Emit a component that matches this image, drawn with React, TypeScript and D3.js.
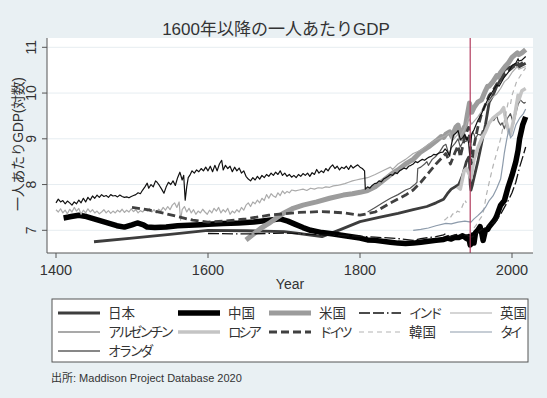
import * as d3 from "d3";

type Pt = [number, number | null];

const xTicks = [1400, 1600, 1800, 2000];
const yTicks = [7, 8, 9, 10, 11];
const warYear = 1945;

const japan: Pt[] = [
  [1450, 6.75], [1500, 6.83], [1550, 6.91], [1600, 7.0], [1650, 6.99], [1700, 6.97], [1720, 6.93],
  [1750, 6.86], [1775, 7.02], [1800, 7.19], [1825, 7.28], [1850, 7.37], [1870, 7.45], [1888, 7.52],
  [1900, 7.6], [1910, 7.68], [1915, 7.8], [1920, 7.9], [1925, 7.95], [1930, 8.0], [1935, 8.2],
  [1940, 8.5], [1943, 8.6], [1944, 8.5], [1945, 8.0], [1946, 7.88], [1948, 8.0], [1950, 8.15],
  [1955, 8.5], [1960, 8.9], [1965, 9.3], [1970, 9.8], [1975, 9.95], [1980, 10.15], [1985, 10.3],
  [1990, 10.5], [1995, 10.55], [2000, 10.58], [2005, 10.63], [2009, 10.57], [2018, 10.65],
];

const china: Pt[] = [
  [1410, 7.27], [1420, 7.3], [1430, 7.33], [1440, 7.3], [1450, 7.25], [1460, 7.2], [1470, 7.15],
  [1480, 7.1], [1490, 7.07], [1500, 7.12], [1507, 7.16], [1515, 7.12], [1520, 7.07], [1530, 7.06],
  [1545, 7.07], [1560, 7.1], [1575, 7.11], [1590, 7.12], [1600, 7.13], [1620, 7.15], [1640, 7.16],
  [1660, 7.18], [1680, 7.22], [1695, 7.25], [1705, 7.2], [1715, 7.13], [1725, 7.06], [1735, 7.0],
  [1750, 6.95], [1765, 6.92], [1780, 6.88], [1800, 6.83], [1810, 6.79], [1820, 6.78], [1840, 6.74],
  [1850, 6.72], [1860, 6.71], [1870, 6.72], [1880, 6.74], [1890, 6.76], [1900, 6.78], [1910, 6.8],
  [1915, 6.83], [1920, 6.81], [1925, 6.85], [1930, 6.84], [1935, 6.88], [1938, 6.85], [1940, 6.82],
  [1943, 6.86], [1945, 6.68], [1947, 6.72], [1949, 6.9], [1950, 6.72], [1952, 6.95], [1955, 7.0],
  [1958, 7.08], [1960, 6.95], [1962, 6.78], [1965, 7.0], [1968, 7.02], [1970, 7.08], [1975, 7.18],
  [1978, 7.25], [1980, 7.32], [1985, 7.55], [1990, 7.65], [1995, 7.95], [2000, 8.2], [2005, 8.5],
  [2008, 8.75], [2010, 9.0], [2014, 9.3], [2018, 9.48],
];

const usa: Pt[] = [
  [1650, 6.79], [1660, 6.92], [1670, 7.05], [1680, 7.15], [1690, 7.27], [1700, 7.38], [1712, 7.48],
  [1725, 7.55], [1743, 7.62], [1760, 7.7], [1778, 7.77], [1790, 7.8], [1800, 7.83], [1810, 7.87],
  [1820, 7.95], [1830, 8.08], [1843, 8.25], [1850, 8.32], [1860, 8.45], [1870, 8.55], [1879, 8.7],
  [1890, 8.82], [1900, 8.95], [1907, 9.05], [1910, 9.03], [1913, 9.1], [1918, 9.15], [1921, 9.05],
  [1926, 9.25], [1929, 9.3], [1933, 9.0], [1937, 9.25], [1938, 9.2], [1941, 9.5], [1944, 9.78],
  [1946, 9.62], [1947, 9.58], [1950, 9.68], [1955, 9.8], [1960, 9.85], [1965, 10.05], [1968, 10.15],
  [1970, 10.15], [1975, 10.25], [1980, 10.38], [1982, 10.35], [1985, 10.45], [1991, 10.58],
  [1995, 10.65], [2000, 10.78], [2007, 10.88], [2009, 10.84], [2013, 10.88], [2018, 10.95],
];

const india: Pt[] = [
  [1600, 6.93], [1650, 6.92], [1700, 6.94], [1750, 6.9], [1800, 6.87], [1820, 6.85], [1850, 6.82],
  [1870, 6.78], [1880, 6.82], [1890, 6.84], [1900, 6.86], [1910, 6.9], [1913, 6.93], [1918, 6.85],
  [1920, 6.88], [1925, 6.9], [1930, 6.92], [1935, 6.88], [1940, 6.9], [1943, 6.87], [1947, 6.85],
  [1950, 6.88], [1955, 6.95], [1960, 7.02], [1965, 7.05], [1970, 7.12], [1975, 7.15], [1980, 7.22],
  [1985, 7.35], [1990, 7.5], [1995, 7.65], [2000, 7.82], [2005, 8.05], [2010, 8.38], [2015, 8.65],
  [2018, 8.82],
];

const uk: Pt[] = [
  [1400, 7.45], [1403, 7.4], [1406, 7.47], [1409, 7.38], [1412, 7.44], [1415, 7.36], [1418, 7.46],
  [1421, 7.4], [1424, 7.5], [1427, 7.42], [1430, 7.48], [1433, 7.35], [1436, 7.44], [1439, 7.38],
  [1442, 7.47], [1445, 7.4], [1448, 7.45], [1451, 7.38], [1454, 7.42], [1457, 7.36], [1460, 7.4],
  [1463, 7.45], [1466, 7.38], [1469, 7.43], [1472, 7.37], [1475, 7.42], [1478, 7.38], [1481, 7.44],
  [1484, 7.4], [1487, 7.46], [1490, 7.39], [1493, 7.44], [1496, 7.4], [1499, 7.47], [1502, 7.41],
  [1505, 7.45], [1508, 7.38], [1511, 7.43], [1514, 7.4], [1517, 7.46], [1520, 7.42], [1523, 7.48],
  [1526, 7.4], [1529, 7.45], [1532, 7.38], [1535, 7.46], [1538, 7.42], [1541, 7.5], [1544, 7.44],
  [1547, 7.52], [1550, 7.45], [1553, 7.55], [1556, 7.6], [1559, 7.5], [1562, 7.62], [1564, 7.22],
  [1566, 7.45], [1569, 7.52], [1572, 7.4], [1575, 7.48], [1578, 7.38], [1581, 7.45], [1584, 7.35],
  [1587, 7.42], [1590, 7.38], [1593, 7.46], [1596, 7.4], [1599, 7.35], [1602, 7.44], [1605, 7.38],
  [1608, 7.48], [1611, 7.42], [1614, 7.5], [1617, 7.38], [1620, 7.45], [1623, 7.4], [1626, 7.48],
  [1629, 7.35], [1632, 7.42], [1635, 7.38], [1638, 7.45], [1641, 7.4], [1644, 7.5], [1647, 7.44],
  [1650, 7.55], [1653, 7.6], [1656, 7.52], [1659, 7.62], [1662, 7.58], [1665, 7.66], [1668, 7.6],
  [1671, 7.7], [1674, 7.65], [1677, 7.78], [1680, 7.7], [1683, 7.8], [1686, 7.75], [1689, 7.72],
  [1692, 7.82], [1695, 7.76], [1698, 7.86], [1701, 7.8], [1704, 7.85], [1707, 7.82], [1710, 7.88],
  [1715, 7.86], [1720, 7.88], [1725, 7.9], [1730, 7.87], [1735, 7.92], [1740, 7.9], [1745, 7.93],
  [1750, 7.92], [1755, 7.95], [1760, 7.94], [1765, 7.97], [1770, 7.98], [1775, 8.0], [1780, 8.02],
  [1785, 8.05], [1790, 8.08], [1795, 8.1], [1800, 8.12], [1810, 8.15], [1820, 8.22], [1830, 8.3],
  [1840, 8.38], [1843, 8.33], [1850, 8.45], [1860, 8.55], [1870, 8.68], [1880, 8.75], [1890, 8.88],
  [1900, 8.98], [1913, 9.07], [1918, 9.13], [1921, 8.95], [1929, 9.1], [1931, 9.03], [1937, 9.2],
  [1943, 9.45], [1947, 9.32], [1950, 9.38], [1955, 9.48], [1960, 9.6], [1965, 9.72], [1970, 9.82],
  [1975, 9.92], [1980, 9.98], [1985, 10.1], [1990, 10.25], [1995, 10.32], [2000, 10.45], [2007, 10.58],
  [2009, 10.52], [2018, 10.58],
];

const argentina: Pt[] = [
  [1810, 7.4], [1820, 7.5], [1830, 7.6], [1840, 7.7], [1850, 7.78], [1860, 7.88], [1866, 7.92],
  [1872, 8.0], [1875, 8.05], [1876, 8.35], [1880, 8.38], [1885, 8.45], [1888, 8.5], [1890, 8.42],
  [1895, 8.55], [1900, 8.62], [1905, 8.72], [1910, 8.85], [1913, 8.88], [1917, 8.65], [1920, 8.8],
  [1925, 8.9], [1929, 9.0], [1932, 8.82], [1935, 8.92], [1940, 8.95], [1944, 9.05], [1945, 8.98],
  [1948, 9.15], [1950, 9.1], [1952, 9.0], [1955, 9.1], [1959, 9.08], [1961, 9.18], [1963, 9.1],
  [1965, 9.25], [1970, 9.35], [1974, 9.45], [1976, 9.4], [1980, 9.5], [1982, 9.38], [1985, 9.3],
  [1987, 9.35], [1990, 9.22], [1994, 9.45], [1998, 9.55], [2002, 9.32], [2005, 9.55], [2008, 9.75],
  [2011, 9.85], [2014, 9.8], [2016, 9.78], [2018, 9.8],
];

const russia: Pt[] = [
  [1928, 7.95], [1932, 7.9], [1937, 8.3], [1940, 8.35], [1946, 8.15], [1950, 8.55], [1955, 8.8],
  [1960, 9.0], [1965, 9.15], [1970, 9.35], [1975, 9.45], [1980, 9.52], [1985, 9.58], [1989, 9.68],
  [1992, 9.4], [1996, 9.15], [1998, 9.1], [2000, 9.25], [2004, 9.55], [2008, 9.95], [2009, 9.85],
  [2013, 10.05], [2018, 10.1],
];

const germany: Pt[] = [
  [1500, 7.5], [1520, 7.45], [1540, 7.38], [1560, 7.3], [1580, 7.22], [1600, 7.18], [1620, 7.2],
  [1650, 7.25], [1680, 7.33], [1700, 7.36], [1720, 7.39], [1750, 7.41], [1780, 7.38], [1800, 7.33],
  [1820, 7.4], [1840, 7.6], [1860, 7.77], [1870, 7.88], [1880, 8.05], [1890, 8.25], [1900, 8.45],
  [1913, 8.68], [1919, 8.45], [1925, 8.7], [1929, 8.85], [1932, 8.6], [1938, 9.05], [1943, 9.25],
  [1945, 8.9], [1946, 8.45], [1948, 8.6], [1950, 8.85], [1955, 9.25], [1960, 9.55], [1965, 9.75],
  [1970, 9.95], [1975, 10.05], [1980, 10.2], [1985, 10.28], [1991, 10.42], [2000, 10.55],
  [2008, 10.65], [2009, 10.6], [2018, 10.72],
];

const korea: Pt[] = [
  [1911, 7.22], [1914, 7.26], [1917, 7.32], [1919, 7.28], [1922, 7.36], [1925, 7.34], [1928, 7.42],
  [1931, 7.4], [1934, 7.5], [1936, 7.58], [1938, 7.66], [1940, 7.6], [1945, null], [1950, 7.05],
  [1953, 7.12], [1956, 7.2], [1960, 7.3], [1963, 7.45], [1966, 7.75], [1970, 8.05], [1975, 8.4],
  [1980, 8.7], [1985, 9.0], [1990, 9.4], [1995, 9.8], [1998, 9.75], [2000, 9.95], [2006, 10.25],
  [2010, 10.35], [2015, 10.48], [2018, 10.55],
];

const thailand: Pt[] = [
  [1870, 7.0], [1880, 7.02], [1890, 7.05], [1900, 7.1], [1913, 7.15], [1920, 7.14], [1929, 7.18],
  [1938, 7.2], [1946, 7.18], [1950, 7.25], [1955, 7.32], [1960, 7.4], [1965, 7.5], [1970, 7.65],
  [1975, 7.75], [1980, 7.92], [1985, 8.12], [1988, 8.45], [1990, 8.7], [1993, 8.98], [1996, 9.22],
  [1998, 9.02], [2001, 9.08], [2005, 9.3], [2010, 9.45], [2015, 9.55], [2018, 9.65],
];

const netherlands: Pt[] = [
  [1400, 7.6], [1403, 7.68], [1406, 7.62], [1409, 7.65], [1412, 7.58], [1415, 7.64], [1418, 7.6],
  [1421, 7.55], [1424, 7.62], [1427, 7.58], [1430, 7.66], [1433, 7.6], [1436, 7.7], [1439, 7.62],
  [1442, 7.72], [1445, 7.66], [1448, 7.75], [1451, 7.7], [1454, 7.77], [1457, 7.72], [1460, 7.78],
  [1463, 7.74], [1466, 7.76], [1469, 7.72], [1472, 7.78], [1475, 7.75], [1478, 7.76], [1481, 7.73],
  [1484, 7.77], [1487, 7.74], [1490, 7.72], [1493, 7.73], [1496, 7.71], [1499, 7.74], [1502, 7.76],
  [1505, 7.78], [1508, 7.82], [1511, 7.8], [1514, 7.88], [1517, 7.95], [1520, 8.03], [1522, 7.92],
  [1525, 8.0], [1528, 7.95], [1531, 8.08], [1533, 8.05], [1536, 7.98], [1539, 7.9], [1542, 7.81],
  [1545, 7.95], [1548, 8.05], [1551, 8.0], [1554, 8.08], [1557, 7.98], [1560, 8.15], [1563, 8.27],
  [1566, 8.1], [1568, 8.2], [1570, 7.66], [1572, 7.95], [1574, 8.15], [1576, 8.2], [1579, 8.3],
  [1582, 8.25], [1585, 8.32], [1588, 8.28], [1591, 8.35], [1594, 8.3], [1597, 8.38], [1600, 8.3],
  [1603, 8.4], [1606, 8.28], [1609, 8.42], [1612, 8.3], [1615, 8.45], [1618, 8.53], [1620, 8.32],
  [1623, 8.42], [1626, 8.35], [1629, 8.4], [1632, 8.28], [1635, 8.38], [1638, 8.3], [1641, 8.36],
  [1644, 8.25], [1647, 8.3], [1650, 8.18], [1653, 8.12], [1656, 8.08], [1659, 8.15], [1662, 8.1],
  [1665, 8.18], [1668, 8.12], [1671, 8.2], [1674, 8.15], [1677, 8.22], [1680, 8.18], [1683, 8.25],
  [1686, 8.2], [1689, 8.27], [1692, 8.22], [1695, 8.3], [1698, 8.2], [1701, 8.25], [1704, 8.18],
  [1707, 8.22], [1710, 8.16], [1713, 8.2], [1716, 8.15], [1719, 8.22], [1722, 8.18], [1725, 8.24],
  [1728, 8.2], [1731, 8.25], [1734, 8.18], [1737, 8.26], [1740, 8.22], [1743, 8.33], [1746, 8.25],
  [1749, 8.3], [1752, 8.26], [1755, 8.35], [1758, 8.3], [1761, 8.38], [1764, 8.43], [1767, 8.35],
  [1770, 8.4], [1773, 8.32], [1776, 8.38], [1779, 8.35], [1782, 8.4], [1785, 8.33], [1788, 8.42],
  [1791, 8.36], [1794, 8.4], [1797, 8.43], [1800, 8.38], [1803, 8.35], [1806, 8.3], [1807, 7.9],
  [1810, 7.95], [1813, 7.92], [1816, 7.98], [1819, 8.02], [1822, 8.03], [1825, 8.08], [1828, 8.06],
  [1831, 8.12], [1834, 8.15], [1837, 8.18], [1840, 8.22], [1843, 8.2], [1846, 8.26], [1849, 8.24],
  [1852, 8.3], [1855, 8.33], [1858, 8.36], [1861, 8.34], [1864, 8.4], [1867, 8.42], [1870, 8.45],
  [1873, 8.5], [1876, 8.48], [1879, 8.52], [1882, 8.55], [1885, 8.53], [1888, 8.57], [1891, 8.6],
  [1894, 8.62], [1897, 8.66], [1900, 8.65], [1903, 8.68], [1906, 8.7], [1909, 8.71], [1912, 8.78],
  [1915, 8.72], [1918, 8.62], [1920, 8.85], [1923, 9.08], [1926, 9.12], [1929, 9.18], [1932, 8.98],
  [1935, 9.02], [1938, 9.1], [1940, 8.98], [1941, 9.04], [1943, 8.9], [1944, 8.7], [1945, 8.55],
  [1946, 8.95], [1947, 9.1], [1950, 9.2], [1955, 9.4], [1960, 9.55], [1965, 9.75], [1970, 9.92],
  [1975, 10.05], [1980, 10.18], [1983, 10.15], [1990, 10.35], [1995, 10.45], [2000, 10.6],
  [2005, 10.65], [2008, 10.75], [2009, 10.7], [2013, 10.72], [2018, 10.8],
];

const series = [
  { name: "日本", data: japan, color: "#3d3d3d", width: 2.8, dash: "" },
  { name: "中国", data: china, color: "#000000", width: 5.5, dash: "" },
  { name: "米国", data: usa, color: "#9c9c9c", width: 5, dash: "" },
  { name: "インド", data: india, color: "#111111", width: 1.3, dash: "11,3,11,3,1.5,3" },
  { name: "英国", data: uk, color: "#ababab", width: 1.2, dash: "" },
  { name: "アルゼンチン", data: argentina, color: "#555555", width: 1.2, dash: "" },
  { name: "ロシア", data: russia, color: "#c4c4c4", width: 3.5, dash: "" },
  { name: "ドイツ", data: germany, color: "#404040", width: 2.8, dash: "8,4" },
  { name: "韓国", data: korea, color: "#b4b4b4", width: 1.2, dash: "5,4" },
  { name: "タイ", data: thailand, color: "#8d9bab", width: 1.2, dash: "" },
  { name: "オランダ", data: netherlands, color: "#111111", width: 1.2, dash: "" },
];

// label widths in the legend (kana set tighter than kanji)
const legendTextWidth: Record<string, number> = {
  "インド": 34,
  "アルゼンチン": 66,
  "ロシア": 34,
  "ドイツ": 34,
  "タイ": 23,
  "オランダ": 46,
};

const FONT = "'Liberation Sans', Arial, 'Noto Sans CJK JP', sans-serif";

export default function App() {
  const W = 547;
  const H = 398;
  const plot = { left: 47, right: 533, top: 38, bottom: 253 };

  const x = d3.scaleLinear().domain([1400, 2000]).range([56, 512]);
  const y = d3.scaleLinear().domain([7, 11]).range([230.3, 47.3]);

  const line = d3
    .line<Pt>()
    .defined((d) => d[1] != null)
    .x((d) => x(d[0]))
    .y((d) => y(d[1] as number));

  const legendCols = [58, 178, 269, 359, 450];
  const legendRows = [313, 332, 351];

  return (
    <svg
      width={W}
      height={H}
      style={{ position: "absolute", left: 0, top: 0, fontFamily: FONT }}
    >
      <rect x={0} y={0} width={W} height={H} fill="#e9f0f3" />
      <rect
        x={plot.left}
        y={plot.top}
        width={plot.right - plot.left}
        height={plot.bottom - plot.top}
        fill="#ffffff"
      />

      {/* grid */}
      {yTicks.map((t) => (
        <line key={t} x1={plot.left} x2={plot.right} y1={y(t)} y2={y(t)} stroke="#e6edf1" strokeWidth={1} />
      ))}

      {/* series */}
      {series.map((s) => (
        <path
          key={s.name}
          d={line(s.data) || ""}
          fill="none"
          stroke={s.color}
          strokeWidth={s.width}
          strokeDasharray={s.dash || undefined}
          strokeLinejoin="round"
        />
      ))}

      {/* 1945 */}
      <line x1={x(warYear)} x2={x(warYear)} y1={plot.top} y2={plot.bottom} stroke="#b23b5e" strokeWidth={1.2} />

      {/* axes */}
      <line x1={plot.left} x2={plot.left} y1={plot.top} y2={plot.bottom} stroke="#555" />
      <line x1={plot.left} x2={plot.right} y1={plot.bottom} y2={plot.bottom} stroke="#555" />
      {yTicks.map((t) => (
        <g key={t}>
          <line x1={plot.left - 5} x2={plot.left} y1={y(t)} y2={y(t)} stroke="#555" />
          <text
            x={36}
            y={y(t)}
            transform={`rotate(-90, 36, ${y(t)})`}
            textAnchor="middle"
            fontSize={14}
            fill="#333"
          >
            {t}
          </text>
        </g>
      ))}
      {xTicks.map((t) => (
        <g key={t}>
          <line x1={x(t)} x2={x(t)} y1={plot.bottom} y2={plot.bottom + 5} stroke="#555" />
          <text x={x(t)} y={275} textAnchor="middle" fontSize={14.5} fill="#333">
            {t}
          </text>
        </g>
      ))}

      {/* titles */}
      <text x={276} y={35} textAnchor="middle" fontSize={17} fill="#333">
        1600年以降の一人あたりGDP
      </text>
      <text x={290} y={289} textAnchor="middle" fontSize={14} fill="#333">
        Year
      </text>
      <text
        x={23}
        y={144}
        transform="rotate(-90, 23, 144)"
        textAnchor="middle"
        fontSize={14}
        fill="#333"
        textLength={134}
        lengthAdjust="spacing"
      >
        一人あたりGDP(対数)
      </text>

      {/* legend */}
      <rect x={52} y={299} width={476} height={63} fill="#ffffff" stroke="#555" strokeWidth={1} />
      {series.map((s, i) => {
        const cx = legendCols[i % 5];
        const cy = legendRows[Math.floor(i / 5)];
        const tl = legendTextWidth[s.name];
        return (
          <g key={s.name}>
            <line
              x1={cx}
              x2={cx + 42}
              y1={cy}
              y2={cy}
              stroke={s.color}
              strokeWidth={s.width}
              strokeDasharray={s.dash || undefined}
            />
            <text
              x={cx + 50}
              y={cy + 5}
              fontSize={13.5}
              fill="#333"
              textLength={tl}
              lengthAdjust={tl ? "spacing" : undefined}
            >
              {s.name}
            </text>
          </g>
        );
      })}

      <text x={51} y={382} fontSize={11} fill="#333">
        出所:  Maddison Project Database 2020
      </text>
    </svg>
  );
}
